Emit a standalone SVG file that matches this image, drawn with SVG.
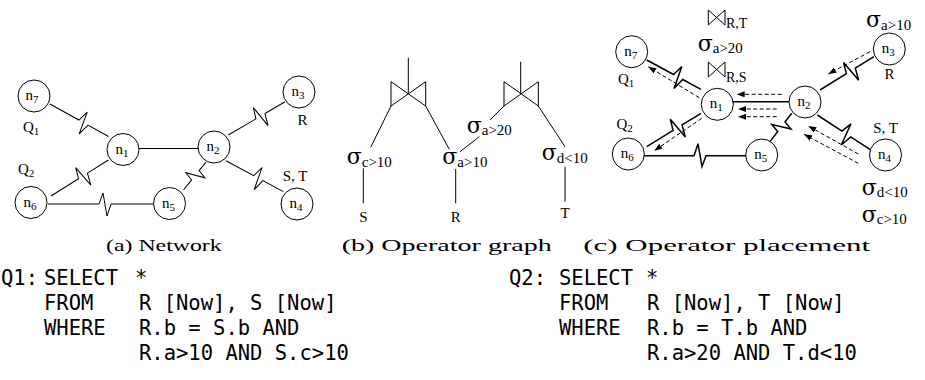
<svg xmlns="http://www.w3.org/2000/svg" width="925" height="380" viewBox="0 0 925 380">
<defs>
<marker id="ah" viewBox="0 0 8 6" refX="8" refY="3" markerWidth="8" markerHeight="6" orient="auto" markerUnits="userSpaceOnUse"><path d="M0,0 L8,3 L0,6 z" fill="#000"/></marker>
</defs>
<style>
.ln{stroke:#000;stroke-width:1;fill:none}
.lc{stroke:#000;stroke-width:1.5;fill:none}
.ds{stroke:#000;stroke-width:1;fill:none;stroke-dasharray:4 2.5;marker-end:url(#ah)}
.nd{fill:#fff;stroke:#000;stroke-width:1}
.lb{font-family:"Liberation Serif",serif;font-size:15px;fill:#000}
.s{font-size:11px}
.sg{font-family:"DejaVu Serif",serif;font-size:22px;fill:#000}
.sb{font-family:"Liberation Serif",serif;font-size:15px}
.bs{font-family:"Liberation Serif",serif;font-size:14px;fill:#000}
.cap{font-family:"Liberation Serif",serif;font-size:17px;fill:#000}
.code{font-family:"DejaVu Sans Mono",monospace;font-size:20.5px;fill:#000}
</style>
<rect width="925" height="380" fill="#fff"/>

<!-- Panel (a) connectors -->
<g id="connectors-a">
<path class="ln" transform="translate(50,104) rotate(29.05)" d="M0,0 H33 l3.5,-11 l3.5,23 l3.5,-12 H66.9"/>
<path class="ln" transform="translate(51,196) rotate(-32.1)" d="M0,0 H32.5 l3.5,-11 l3.5,23 l3.5,-12 H67.7"/>
<path class="ln" d="M48,204 H99 l4,-11 l4,23 l4,-12 H154"/>
<path class="ln" d="M139,148.5 H198"/>
<path class="ln" transform="translate(206,162) rotate(128.8)" d="M0,0 H11 l2,-9 l8,18 l2,-9 H35.9"/>
<path class="ln" transform="translate(228.3,135) rotate(-30.4)" d="M0,0 H32 l3.5,-11 l3.5,23 l3.5,-12 H65.8"/>
<path class="ln" transform="translate(226,160.7) rotate(28.4)" d="M0,0 H31.5 l3.5,-11 l3.5,23 l3.5,-12 H65.1"/>
</g>

<!-- Panel (a) nodes -->
<g id="a-n7"><circle class="nd" cx="34" cy="96" r="16"/><text class="lb" x="32" y="100" text-anchor="middle">n<tspan class="s" dy="3">7</tspan></text></g>
<g id="a-n1"><circle class="nd" cx="123" cy="149.5" r="16"/><text class="lb" x="122" y="153.5" text-anchor="middle">n<tspan class="s" dy="3">1</tspan></text></g>
<g id="a-n2"><circle class="nd" cx="214" cy="147" r="16"/><text class="lb" x="213" y="151" text-anchor="middle">n<tspan class="s" dy="3">2</tspan></text></g>
<g id="a-n3"><circle class="nd" cx="299" cy="92" r="16"/><text class="lb" x="298" y="96" text-anchor="middle">n<tspan class="s" dy="3">3</tspan></text></g>
<g id="a-n4"><circle class="nd" cx="297" cy="204" r="16"/><text class="lb" x="296" y="208" text-anchor="middle">n<tspan class="s" dy="3">4</tspan></text></g>
<g id="a-n5"><circle class="nd" cx="169.5" cy="203.5" r="16"/><text class="lb" x="168.5" y="207.5" text-anchor="middle">n<tspan class="s" dy="3">5</tspan></text></g>
<g id="a-n6"><circle class="nd" cx="31" cy="202.5" r="16"/><text class="lb" x="30" y="206.5" text-anchor="middle">n<tspan class="s" dy="3">6</tspan></text></g>
<g id="a-labels">
<text class="lb" x="23" y="132">Q<tspan class="s" dy="3">1</tspan></text>
<text class="lb" x="18" y="174">Q<tspan class="s" dy="3">2</tspan></text>
<text class="lb" x="302.5" y="125" text-anchor="middle">R</text>
<text class="lb" x="295" y="181" text-anchor="middle">S, T</text>
</g>

<!-- Panel (b) -->
<g id="connectors-b">
<path class="ln" d="M391,106 L370.7,147.3"/>
<path class="ln" d="M425.7,106 L449.3,149.3"/>
<path class="ln" d="M504,106 L490,120"/>
<path class="ln" d="M538.3,106 L565,146.7"/>
<path class="ln" d="M460,151.7 L479.3,136.7"/>
<path class="ln" d="M363.3,168.3 V203.3"/>
<path class="ln" d="M455.7,169 V203.3"/>
<path class="ln" d="M565,166.7 V201.7"/>
</g>
<g id="b-join1"><path class="ln" d="M408.3,57.7 V93.5 M391,81.7 V106 L425.7,81.7 V106 L391,81.7"/></g>
<g id="b-join2"><path class="ln" d="M520.7,61.7 V93.3 M504,81.7 V106 L538.3,81.7 V106 L504,81.7"/></g>
<g id="b-sel-c"><text class="sg" x="346.7" y="164">σ<tspan class="sb" dy="3">c&gt;10</tspan></text></g>
<g id="b-sel-a10"><text class="sg" x="442.3" y="164">σ<tspan class="sb" dy="3">a&gt;10</tspan></text></g>
<g id="b-sel-a20"><text class="sg" x="466.7" y="133">σ<tspan class="sb" dy="2">a&gt;20</tspan></text></g>
<g id="b-sel-d"><text class="sg" x="541.7" y="160">σ<tspan class="sb" dy="3">d&lt;10</tspan></text></g>
<g id="b-S"><text class="lb" x="363.3" y="221.7" text-anchor="middle">S</text></g>
<g id="b-R"><text class="lb" x="455.7" y="221.7" text-anchor="middle">R</text></g>
<g id="b-T"><text class="lb" x="565" y="218.3" text-anchor="middle">T</text></g>

<!-- Panel (c) connectors -->
<g id="connectors-c">
<path class="lc" transform="translate(646.7,60) rotate(28.4)" d="M0,0 H30.5 l3.5,-11 l3.5,23 l3.5,-12 H61.7"/>
<path class="lc" transform="translate(646.7,146.7) rotate(-31.6)" d="M0,0 H31 l3.5,-11 l3.5,23 l3.5,-12 H63.8"/>
<path class="lc" d="M643.3,155.7 H694 l4,-12 l4,23 l4,-11 H746"/>
<path class="lc" d="M733,101.7 H789"/>
<path class="lc" transform="translate(791.7,113.3) rotate(127.4)" d="M0,0 H11 l2,-9 l8,18 l2,-9 H35.7"/>
<path class="lc" transform="translate(820,90) rotate(-31.7)" d="M0,0 H31 l3.5,-11 l3.5,23 l3.5,-12 H63.4"/>
<path class="lc" transform="translate(817.3,115) rotate(33.2)" d="M0,0 H29.5 l3.5,-11 l3.5,23 l3.5,-12 H67"/>
<path class="ds" d="M699.3,97.7 L648.3,66.7"/>
<path class="ds" d="M701.7,118.3 L654.3,150.7"/>
<path class="ds" d="M781.7,94.3 H736.7"/>
<path class="ds" d="M776.7,109 H738"/>
<path class="ds" d="M776.7,116.7 H738"/>
<path class="ds" d="M870,51.7 L828.3,74"/>
<path class="ds" d="M858.3,154 L808.3,126"/>
<path class="ds" d="M858.3,163.3 L804,134.3"/>
</g>

<!-- Panel (c) nodes -->
<g id="c-n7"><circle class="nd" cx="631.7" cy="51.7" r="16"/><text class="lb" x="630.7" y="55.7" text-anchor="middle">n<tspan class="s" dy="3">7</tspan></text></g>
<g id="c-n1"><circle class="nd" cx="717.3" cy="104.3" r="16"/><text class="lb" x="716.3" y="108.3" text-anchor="middle">n<tspan class="s" dy="3">1</tspan></text></g>
<g id="c-n2"><circle class="nd" cx="805" cy="102" r="16"/><text class="lb" x="804" y="106" text-anchor="middle">n<tspan class="s" dy="3">2</tspan></text></g>
<g id="c-n3"><circle class="nd" cx="889.3" cy="49" r="16"/><text class="lb" x="888.3" y="53" text-anchor="middle">n<tspan class="s" dy="3">3</tspan></text></g>
<g id="c-n4"><circle class="nd" cx="885.5" cy="155" r="16"/><text class="lb" x="884.5" y="159" text-anchor="middle">n<tspan class="s" dy="3">4</tspan></text></g>
<g id="c-n5"><circle class="nd" cx="761.7" cy="155" r="16"/><text class="lb" x="760.7" y="159" text-anchor="middle">n<tspan class="s" dy="3">5</tspan></text></g>
<g id="c-n6"><circle class="nd" cx="628.3" cy="154" r="16"/><text class="lb" x="627.3" y="158" text-anchor="middle">n<tspan class="s" dy="3">6</tspan></text></g>
<g id="c-labels">
<text class="lb" x="618" y="84">Q<tspan class="s" dy="3">1</tspan></text>
<text class="lb" x="616.5" y="129">Q<tspan class="s" dy="3">2</tspan></text>
<text class="lb" x="889.5" y="78.5" text-anchor="middle">R</text>
<text class="lb" x="885.5" y="132.5" text-anchor="middle">S, T</text>
</g>
<g id="c-join-RT"><path class="ln" d="M708.3,10 V25 L725,10 V25 L708.3,10"/><text class="bs" x="726" y="28.3">R,T</text></g>
<g id="c-sel-a20"><text class="sg" x="697.7" y="51">σ<tspan class="sb" dy="2">a&gt;20</tspan></text></g>
<g id="c-join-RS"><path class="ln" d="M708.3,62 V77 L725,62 V77 L708.3,62"/><text class="bs" x="726" y="81.7">R,S</text></g>
<g id="c-sel-a10"><text class="sg" x="866" y="27.3">σ<tspan class="sb" dy="2.5">a&gt;10</tspan></text></g>
<g id="c-sel-d"><text class="sg" x="861.7" y="195">σ<tspan class="sb" dy="2">d&lt;10</tspan></text></g>
<g id="c-sel-c"><text class="sg" x="861.7" y="221.7">σ<tspan class="sb" dy="2">c&gt;10</tspan></text></g>

<!-- Captions -->
<g id="captions">
<text class="cap" x="106" y="251" textLength="115.7" lengthAdjust="spacingAndGlyphs">(a) Network</text>
<text class="cap" x="341.7" y="251" textLength="210" lengthAdjust="spacingAndGlyphs">(b) Operator graph</text>
<text class="cap" x="583.3" y="251" textLength="286.7" lengthAdjust="spacingAndGlyphs">(c) Operator placement</text>
</g>

<!-- Queries -->
<g id="query1" class="code">
<text x="1" y="284.5">Q1:</text>
<text x="44" y="284.5">SELECT</text><text x="135" y="284.5">*</text>
<text x="44" y="309.5">FROM</text><text x="139" y="309.5">R [Now], S [Now]</text>
<text x="44" y="334.5">WHERE</text><text x="139" y="334.5">R.b = S.b AND</text>
<text x="139" y="359.5">R.a&gt;10 AND S.c&gt;10</text>
</g>
<g id="query2" class="code">
<text x="509" y="284.5">Q2:</text>
<text x="559" y="284.5">SELECT</text><text x="646" y="284.5">*</text>
<text x="559" y="309.5">FROM</text><text x="647" y="309.5">R [Now], T [Now]</text>
<text x="559" y="334.5">WHERE</text><text x="647" y="334.5">R.b = T.b AND</text>
<text x="647" y="359.5">R.a&gt;20 AND T.d&lt;10</text>
</g>
</svg>
